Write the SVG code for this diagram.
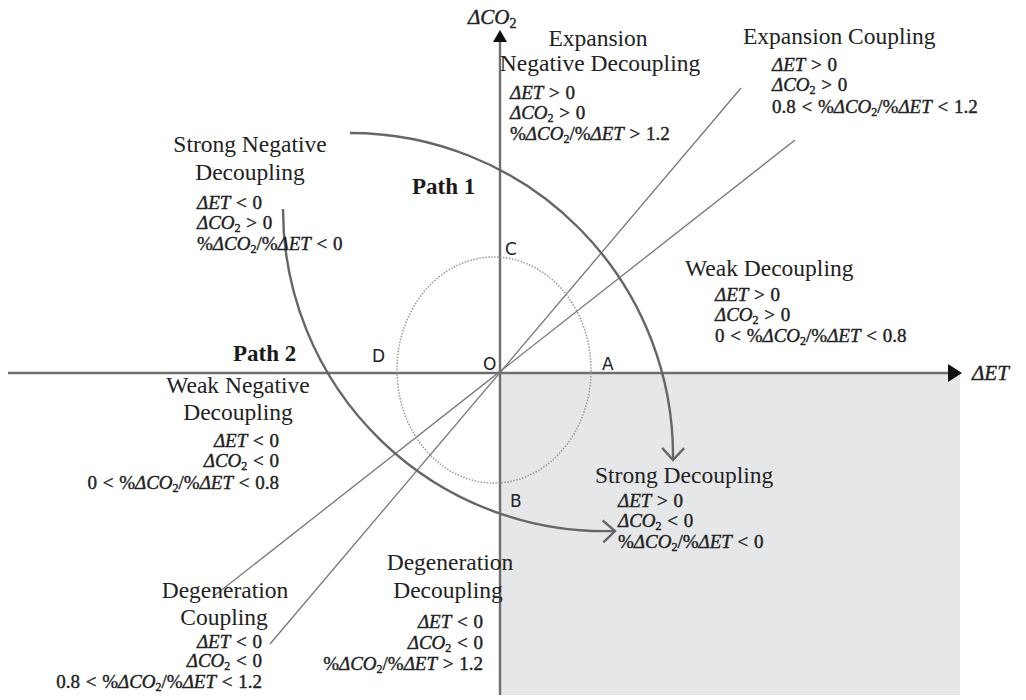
<svg xmlns="http://www.w3.org/2000/svg" width="1026" height="700" viewBox="0 0 1026 700">
<style>
.t{font-family:"Liberation Serif",serif;font-size:23.5px;fill:#222}
.f{font-family:"Liberation Serif",serif;font-size:19px;fill:#222;stroke:#222;stroke-width:0.4;word-spacing:1px}
.v{font-style:italic}
.s{font-size:12px}
.p{font-family:"Liberation Serif",serif;font-size:23px;font-weight:bold;fill:#1a1a1a}
.l{font-family:"DejaVu Sans",sans-serif;font-size:17px;fill:#222}
.ax{stroke:#6e6e6e;stroke-width:2.4;fill:none}
.dl{stroke:#777;stroke-width:1.3;fill:none}
.arc{stroke:#666;stroke-width:2.4;fill:none}
</style>
<defs>
<marker id="vh" viewBox="-1 -12 15 24" refX="12" refY="0" markerWidth="15" markerHeight="24" markerUnits="userSpaceOnUse" orient="auto">
<path d="M0,-11 L12,0 L0,11" fill="none" stroke="#666" stroke-width="2.4"/>
</marker>
</defs>
<rect width="1026" height="700" fill="#fff"/>
<rect x="500" y="373" width="460" height="322" fill="#e6e7e9"/>
<g id="connectors">
<line class="ax" x1="8" y1="373" x2="950" y2="373"/>
<polygon points="948,364 962,373 948,382" fill="#111"/>
<line class="ax" x1="500" y1="40" x2="500" y2="695"/>
<polygon points="500,30 507,42 493,42" fill="#111"/>
<line class="dl" x1="741" y1="88" x2="270" y2="644"/>
<line class="dl" x1="795" y1="140" x2="214" y2="596"/>
<ellipse cx="494" cy="370" rx="97" ry="113" fill="none" stroke="#999" stroke-width="1.5" stroke-dasharray="1.5,1.5"/>
<path class="arc" d="M350,133 A323,323 0 0 1 673,460" marker-end="url(#vh)"/>
<path class="arc" d="M283,209 A322,322 0 0 0 615,531" marker-end="url(#vh)"/>
</g>
<g id="axis-labels">
<text class="f" x="468" y="24" style="font-size:21px"><tspan class="v">ΔCO</tspan><tspan class="s" dy="4" style="font-size:14px">2</tspan></text>
<text class="f" x="972" y="380" style="font-size:21px"><tspan class="v">ΔET</tspan></text>
<text class="l" x="505" y="255">C</text>
<text class="l" x="372" y="362">D</text>
<text class="l" x="483" y="370">O</text>
<text class="l" x="602" y="370">A</text>
<text class="l" x="510" y="507">B</text>
</g>
<g id="path1"><text class="p" x="412" y="194">Path 1</text></g>
<g id="path2"><text class="p" x="233" y="361">Path 2</text></g>
<g id="expansion-negative-decoupling">
<text class="t" x="598" y="46" text-anchor="middle">Expansion</text>
<text class="t" x="600" y="71" text-anchor="middle">Negative Decoupling</text>
<text class="f" x="510" y="99"><tspan class="v">ΔET</tspan> &gt; 0</text>
<text class="f" x="510" y="119"><tspan class="v">ΔCO</tspan><tspan class="s" dy="3">2</tspan><tspan dy="-3"> &gt; 0</tspan></text>
<text class="f" x="510" y="140">%<tspan class="v">ΔCO</tspan><tspan class="s" dy="3">2</tspan><tspan dy="-3">/%</tspan><tspan class="v">ΔET</tspan> &gt; 1.2</text>
</g>
<g id="expansion-coupling">
<text class="t" x="743" y="44">Expansion Coupling</text>
<text class="f" x="772" y="71"><tspan class="v">ΔET</tspan> &gt; 0</text>
<text class="f" x="772" y="91"><tspan class="v">ΔCO</tspan><tspan class="s" dy="3">2</tspan><tspan dy="-3"> &gt; 0</tspan></text>
<text class="f" x="772" y="113">0.8 &lt; %<tspan class="v">ΔCO</tspan><tspan class="s" dy="3">2</tspan><tspan dy="-3">/%</tspan><tspan class="v">ΔET</tspan> &lt; 1.2</text>
</g>
<g id="strong-negative-decoupling">
<text class="t" x="250" y="152" text-anchor="middle">Strong Negative</text>
<text class="t" x="250" y="180" text-anchor="middle">Decoupling</text>
<text class="f" x="197" y="209"><tspan class="v">ΔET</tspan> &lt; 0</text>
<text class="f" x="197" y="229"><tspan class="v">ΔCO</tspan><tspan class="s" dy="3">2</tspan><tspan dy="-3"> &gt; 0</tspan></text>
<text class="f" x="197" y="250">%<tspan class="v">ΔCO</tspan><tspan class="s" dy="3">2</tspan><tspan dy="-3">/%</tspan><tspan class="v">ΔET</tspan> &lt; 0</text>
</g>
<g id="weak-decoupling">
<text class="t" x="685" y="276">Weak Decoupling</text>
<text class="f" x="715" y="301"><tspan class="v">ΔET</tspan> &gt; 0</text>
<text class="f" x="715" y="321"><tspan class="v">ΔCO</tspan><tspan class="s" dy="3">2</tspan><tspan dy="-3"> &gt; 0</tspan></text>
<text class="f" x="715" y="342">0 &lt; %<tspan class="v">ΔCO</tspan><tspan class="s" dy="3">2</tspan><tspan dy="-3">/%</tspan><tspan class="v">ΔET</tspan> &lt; 0.8</text>
</g>
<g id="weak-negative-decoupling">
<text class="t" x="238" y="393" text-anchor="middle">Weak Negative</text>
<text class="t" x="238" y="420" text-anchor="middle">Decoupling</text>
<text class="f" x="279" y="447" text-anchor="end"><tspan class="v">ΔET</tspan> &lt; 0</text>
<text class="f" x="279" y="467" text-anchor="end"><tspan class="v">ΔCO</tspan><tspan class="s" dy="3">2</tspan><tspan dy="-3"> &lt; 0</tspan></text>
<text class="f" x="279" y="489" text-anchor="end">0 &lt; %<tspan class="v">ΔCO</tspan><tspan class="s" dy="3">2</tspan><tspan dy="-3">/%</tspan><tspan class="v">ΔET</tspan> &lt; 0.8</text>
</g>
<g id="strong-decoupling">
<text class="t" x="595" y="483">Strong Decoupling</text>
<text class="f" x="618" y="507"><tspan class="v">ΔET</tspan> &gt; 0</text>
<text class="f" x="618" y="527"><tspan class="v">ΔCO</tspan><tspan class="s" dy="3">2</tspan><tspan dy="-3"> &lt; 0</tspan></text>
<text class="f" x="618" y="548">%<tspan class="v">ΔCO</tspan><tspan class="s" dy="3">2</tspan><tspan dy="-3">/%</tspan><tspan class="v">ΔET</tspan> &lt; 0</text>
</g>
<g id="degeneration-coupling">
<text class="t" x="225" y="598" text-anchor="middle">Degeneration</text>
<text class="t" x="224" y="625" text-anchor="middle">Coupling</text>
<text class="f" x="262" y="648" text-anchor="end"><tspan class="v">ΔET</tspan> &lt; 0</text>
<text class="f" x="262" y="667" text-anchor="end"><tspan class="v">ΔCO</tspan><tspan class="s" dy="3">2</tspan><tspan dy="-3"> &lt; 0</tspan></text>
<text class="f" x="262" y="688" text-anchor="end">0.8 &lt; %<tspan class="v">ΔCO</tspan><tspan class="s" dy="3">2</tspan><tspan dy="-3">/%</tspan><tspan class="v">ΔET</tspan> &lt; 1.2</text>
</g>
<g id="degeneration-decoupling">
<text class="t" x="450" y="570" text-anchor="middle">Degeneration</text>
<text class="t" x="448" y="598" text-anchor="middle">Decoupling</text>
<text class="f" x="483" y="628" text-anchor="end"><tspan class="v">ΔET</tspan> &lt; 0</text>
<text class="f" x="483" y="649" text-anchor="end"><tspan class="v">ΔCO</tspan><tspan class="s" dy="3">2</tspan><tspan dy="-3"> &lt; 0</tspan></text>
<text class="f" x="483" y="670" text-anchor="end">%<tspan class="v">ΔCO</tspan><tspan class="s" dy="3">2</tspan><tspan dy="-3">/%</tspan><tspan class="v">ΔET</tspan> &gt; 1.2</text>
</g>
</svg>
